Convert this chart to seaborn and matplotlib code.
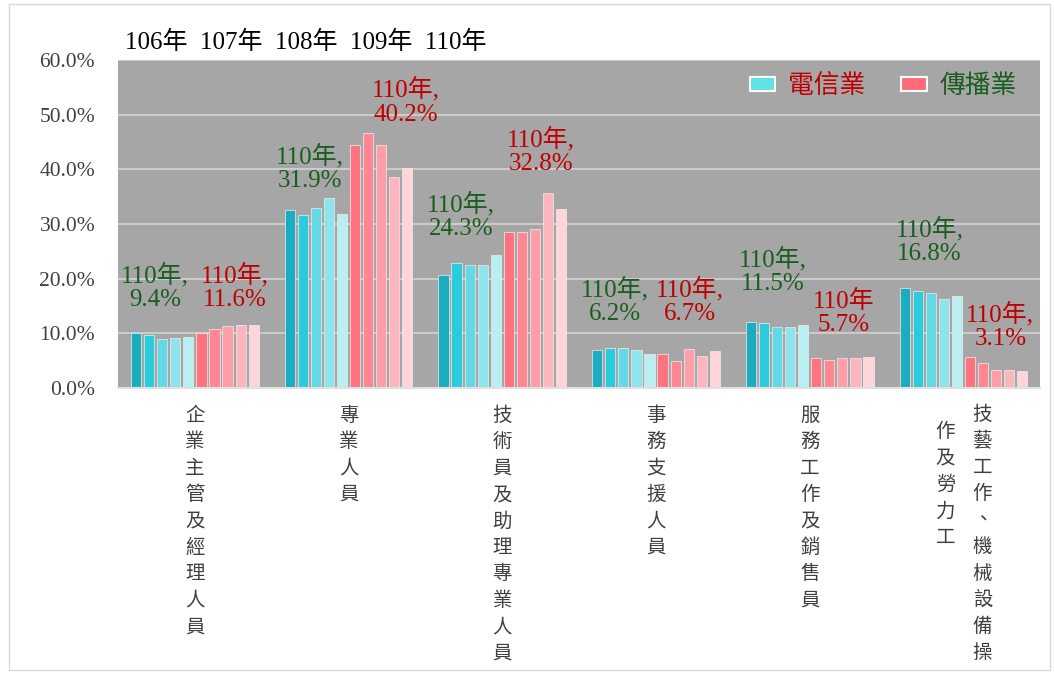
import matplotlib
matplotlib.use("Agg")
import matplotlib.pyplot as plt
import seaborn as sns
import pandas as pd
from matplotlib.patches import Patch, Rectangle

# data
categories = ["企業主管及經理人員", "專業人員", "技術員及助理專業人員",
              "事務支援人員", "服務工作及銷售員", "技藝工作、機械設備操作及勞力工"]
years = ["106年", "107年", "108年", "109年", "110年"]
telecom = [
    [10.1, 9.6, 8.9, 9.1, 9.4],
    [32.5, 31.6, 33.0, 34.7, 31.9],
    [20.7, 22.9, 22.5, 22.5, 24.3],
    [7.0, 7.4, 7.4, 7.0, 6.2],
    [12.0, 11.8, 11.2, 11.2, 11.5],
    [18.3, 17.7, 17.4, 16.2, 16.8],
]
broadcast = [
    [10.0, 10.7, 11.3, 11.5, 11.6],
    [44.5, 46.7, 44.5, 38.6, 40.2],
    [28.6, 28.6, 29.1, 35.7, 32.8],
    [6.3, 5.0, 7.1, 5.9, 6.7],
    [5.4, 5.2, 5.4, 5.4, 5.7],
    [5.7, 4.6, 3.2, 3.2, 3.1],
]
yticks = [0, 10, 20, 30, 40, 50, 60]

telecom_colors = ["#1BACC0", "#2ACBDD", "#63D9E6", "#8FE3EC", "#B9EEF3"]
broadcast_colors = ["#FF7381", "#FF8692", "#FF9DA8", "#FFB5BD", "#FFD5D9"]

rows = []
for ci, cat in enumerate(categories):
    for yi, yr in enumerate(years):
        rows.append({"cat": cat, "series": "電信業" + yr, "value": telecom[ci][yi]})
    for yi, yr in enumerate(years):
        rows.append({"cat": cat, "series": "傳播業" + yr, "value": broadcast[ci][yi]})
df = pd.DataFrame(rows)
hue_order = ["電信業" + y for y in years] + ["傳播業" + y for y in years]

sns.set_style("white")
SERIF = ["Liberation Serif", "Noto Sans CJK TC"]
CJK = ["Noto Sans CJK TC", "DejaVu Sans"]
plt.rcParams["font.family"] = SERIF

fig = plt.figure(figsize=(10.54, 6.73), dpi=100)
ax = fig.add_axes([0.112, 0.4235, 0.875, 0.4875])
fig.patches.append(Rectangle((0.009, 0.004), 0.987, 0.99, transform=fig.transFigure,
                             fill=False, edgecolor="#d9d9d9", linewidth=1.0))

ax.set_facecolor("#A6A6A6")
ax.set_axisbelow(True)
ax.yaxis.grid(True, color="#D0D0D0", linewidth=1.3)

sns.barplot(data=df, x="cat", y="value", hue="series", hue_order=hue_order,
            palette=telecom_colors + broadcast_colors, width=0.85, gap=0.22,
            saturation=1, edgecolor="#eeeeee", linewidth=0.5, legend=False, ax=ax)

ax.set_ylim(0, 60)
ax.set_xlim(-0.5, len(categories) - 0.5)
ax.set_yticks(yticks)
ax.set_yticklabels([f"{t:.1f}%" for t in yticks], fontsize=15.5, color="#404040")
ax.tick_params(axis="y", length=0, pad=16.5)
ax.set_xlabel("")
ax.set_ylabel("")
for s in ["top", "left", "right"]:
    ax.spines[s].set_visible(False)
ax.spines["bottom"].set_color("#e0e0e0")
ax.spines["bottom"].set_linewidth(1.5)

# vertical category labels (last one is drawn as two columns below)
label_kw = dict(family=CJK, fontsize=14, color="#404040", linespacing=1.34)
ax.set_xticks(range(len(categories)))
ax.set_xticklabels(["\n".join(c) for c in categories[:-1]] + [""], va="top", **label_kw)
ax.tick_params(axis="x", length=0, pad=12)

last = categories[-1]
right_col, left_col = last[:10], last[10:]
ax.annotate("\n".join(right_col), xy=(len(categories) - 1, 0),
            xycoords=("data", "axes fraction"), xytext=(19, -16),
            textcoords="offset pixels", ha="center", va="top", **label_kw)
ax.annotate("\n".join(left_col), xy=(len(categories) - 1, 0),
            xycoords=("data", "axes fraction"), xytext=(-18, -33),
            textcoords="offset pixels", ha="center", va="top", **label_kw)

# annotations (110年 values)
green = "#195E1E"
red = "#C00000"
ann = [
    (-0.26, 18.5, "110年,\n9.4%", green), (0.26, 18.5, "110年,\n11.6%", red),
    (0.75, 40.3, "110年,\n31.9%", green), (1.37, 52.4, "110年,\n40.2%", red),
    (1.73, 31.5, "110年,\n24.3%", green), (2.25, 43.4, "110年,\n32.8%", red),
    (2.73, 15.9, "110年,\n6.2%", green), (3.22, 15.9, "110年,\n6.7%", red),
    (3.76, 21.4, "110年,\n11.5%", green), (4.22, 13.7, "110年\n5.7%", red),
    (4.78, 26.9, "110年,\n16.8%", green), (5.24, 11.4, "110年,\n3.1%", red),
]
for x, y, t, c in ann:
    ax.text(x, y, t, ha="center", va="center", fontsize=18, color=c,
            family=SERIF, linespacing=1.1)

# legend
handles = [Patch(facecolor="#5FE3E6", edgecolor="white", linewidth=1.5, label="電信業"),
           Patch(facecolor="#FF6B78", edgecolor="white", linewidth=1.5, label="傳播業")]
leg = ax.legend(handles=handles, loc="upper right", bbox_to_anchor=(1.0, 1.03), ncol=2,
                frameon=False, prop={"family": CJK, "size": 18.5}, handlelength=1.0,
                handleheight=0.45, columnspacing=1.4, handletextpad=0.5)
leg.get_texts()[0].set_color(red)
leg.get_texts()[1].set_color(green)

# year legend text on top
fig.text(0.119, 0.937, "  ".join(years), fontsize=18, color="black", family=SERIF,
         va="center", ha="left")

fig.savefig("out.png", dpi=100, facecolor="white")
